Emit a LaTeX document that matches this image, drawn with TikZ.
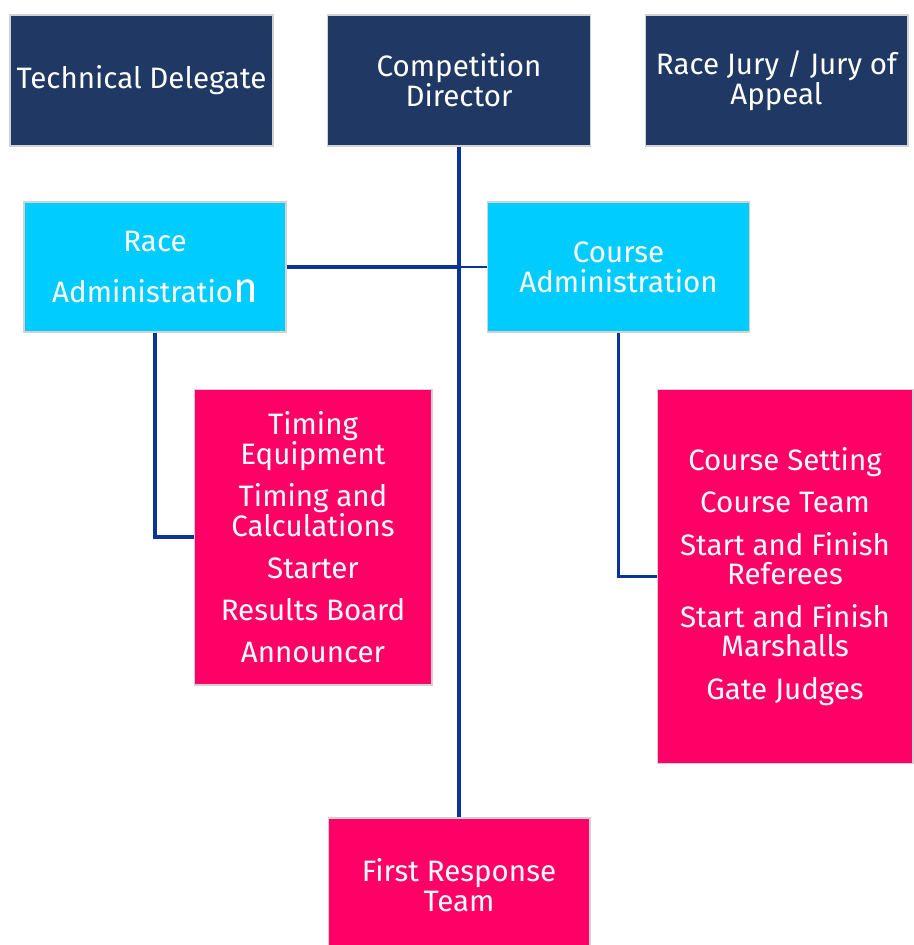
\documentclass[tikz,border=0pt]{standalone}
\usepackage{fontspec}
\setmainfont{Fira Sans}
\definecolor{navybox}{RGB}{32,56,100}
\definecolor{cyanbox}{RGB}{0,204,255}
\definecolor{pinkbox}{RGB}{255,0,102}
\definecolor{linkblue}{RGB}{10,52,152}
\begin{document}
\begin{tikzpicture}[x=0.02cm, y=-0.02cm,
    box/.style={draw=gray!35, line width=0.6pt, text=white, align=center, inner sep=0pt,
      font=\fontsize{16.8}{17}\selectfont},
    topbox/.style={box, fill=navybox, minimum width=5.26cm, minimum height=2.62cm},
    adminbox/.style={box, fill=cyanbox, minimum width=5.24cm, minimum height=2.6cm},
    teambox/.style={box, fill=pinkbox},
    link/.style={draw=linkblue, line width=2pt}]
    \useasboundingbox (0,0) rectangle (913,945);

    % top row
    \node[topbox] (techdel) at (141.5,80.5) {Technical Delegate};
    \node[topbox] (compdir) at (459,80.5) {Competition\\Director};
    \node[topbox] (jury) at (776.5,80.5) {Race Jury / Jury of\\Appeal};

    % administration
    \node[adminbox] (raceadm) at (155,267) {Race\\[12pt]Administratio{\fontsize{24}{24}\selectfont n}};
    \node[adminbox] (courseadm) at (618.5,267) {Course\\Administration};

    % teams
    \node[teambox, minimum width=4.76cm, minimum height=5.92cm] (timing) at (313,537) {
        Timing\\Equipment\\[7pt]
        Timing and\\Calculations\\[7pt]
        Starter\\[7pt]
        Results Board\\[7pt]
        Announcer
    };
    \node[teambox, minimum width=5.12cm, minimum height=7.5cm] (courseteam) at (785,576.5) {
        Course Setting\\[7pt]
        Course Team\\[7pt]
        Start and Finish\\Referees\\[7pt]
        Start and Finish\\Marshalls\\[7pt]
        Gate Judges
    };
    \node[teambox, minimum width=5.24cm, minimum height=2.68cm] (firstresp) at (459,885) {First Response\\Team};

    % connectors
    \draw[link] (compdir.south) -- (firstresp.north);
    \draw[link] (raceadm.east) -- (raceadm.east -| compdir.south);
    \draw[link, line width=1.2pt] (raceadm.east -| compdir.south) -- (courseadm.west);
    \draw[link] (raceadm.south) |- (timing.west);
    \draw[link] (courseadm.south) |- (courseteam.west);
\end{tikzpicture}
\end{document}
